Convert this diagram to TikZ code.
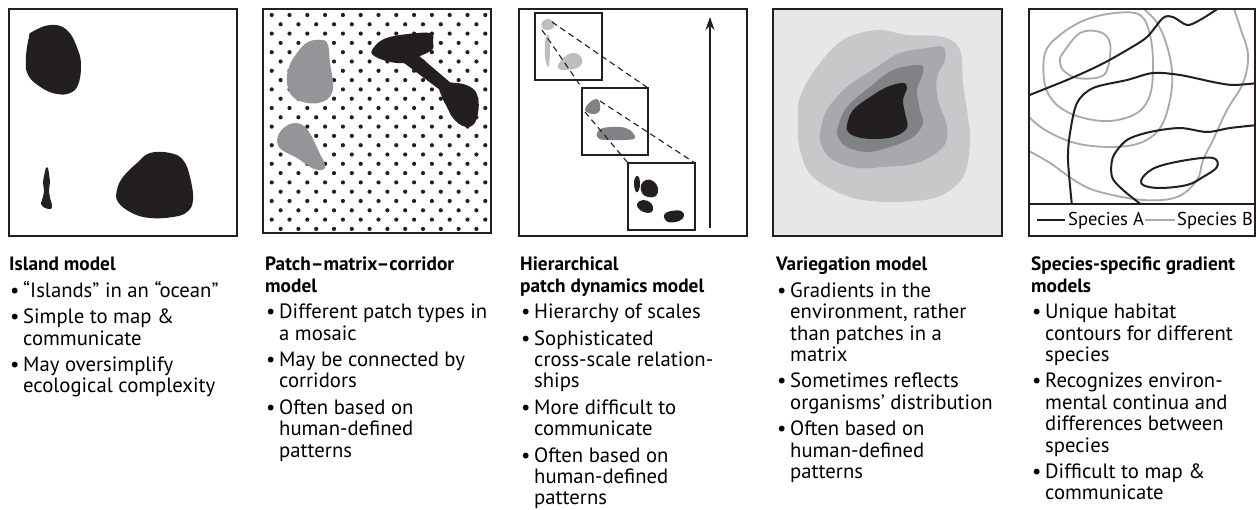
\documentclass[tikz,border=0pt]{standalone}
\usepackage{fontspec}
\setmainfont{PT Sans}
\usetikzlibrary{arrows.meta}

\definecolor{ink}{RGB}{35,31,32}
\definecolor{patchgray}{RGB}{147,149,152}
\definecolor{finegray}{RGB}{188,190,192}
\definecolor{coarsegray}{RGB}{128,130,133}
\definecolor{paleback}{RGB}{230,231,232}
\definecolor{levelone}{RGB}{199,200,202}
\definecolor{leveltwo}{RGB}{167,169,172}
\definecolor{levelthree}{RGB}{128,130,133}
\definecolor{speciesb}{RGB}{167,169,172}

% bullet item with hanging indent
\newcommand{\bul}{\par\vspace{5pt}\hangindent=14pt\hangafter=1\noindent\makebox[14pt][l]{\hspace{1pt}\textbullet}}
\newcommand{\captionfont}{\fontsize{20.7}{21.4}\selectfont}
\newcommand{\headfont}{\fontsize{19.3}{21.4}\selectfont\bfseries}
\newcommand{\keyfont}{\fontsize{18.6}{20}\selectfont}

\tikzset{
  frame/.style={draw=ink, line width=1.3pt},
  inset/.style={draw=ink, line width=1.1pt},
  blob/.style={fill=ink},
  zoomline/.style={draw=ink, line width=1.1pt, dash pattern=on 6pt off 4pt},
  spa/.style={draw=ink, line width=2pt, line join=round, line cap=round},
  spb/.style={draw=speciesb, line width=1.8pt, line join=round, line cap=round},
  caption/.style={anchor=base west, inner sep=0pt},
}

\begin{document}
\begin{tikzpicture}[x=1pt,y=-1pt]
\useasboundingbox (0,0) rectangle (1256,510);
\fill[white] (0,0) rectangle (1256,510);

% ---------- Island model ----------
\fill[blob] plot[smooth cycle, tension=0.7] coordinates {(32,32) (50,25) (67,30) (78,50) (81,67) (78,85) (70,93) (57,94) (42,88) (28,75) (26,57) (29,37)};
\fill[blob] plot[smooth cycle, tension=0.5] coordinates {(46,168) (44,176) (43,183) (44,190) (43,197) (41,204) (45,208) (51,209) (52,205) (50,198) (49,190) (50,182) (49,174) (48,168)};
\fill[blob] plot[smooth cycle, tension=0.7] coordinates {(150,153) (170,153) (183,160) (190,177) (193,200) (187,212) (173,217) (150,218) (132,213) (118,202) (117,190) (123,177) (137,163)};
\draw[frame] (9,9) rectangle (237,236);

% ---------- Patch-matrix-corridor model ----------
\foreach \j in {0,...,23}{
  \pgfmathsetmacro{\yy}{15+9.3*\j}
  \ifodd\j
    \foreach \i in {0,...,11}{\fill[ink] ({280.6+17.8*\i},\yy) circle[radius=2.1pt];}
  \else
    \foreach \i in {0,...,12}{\fill[ink] ({271.7+17.8*\i},\yy) circle[radius=2.1pt];}
  \fi
}
\fill[patchgray] plot[smooth cycle, tension=0.7] coordinates {(308,42) (322,40) (328,45) (330,63) (333,83) (331,95) (322,102) (308,103) (293,97) (287,83) (289,67) (297,53)};
\fill[patchgray] plot[smooth cycle, tension=0.6] coordinates {(297,123) (305,127) (312,137) (318,150) (325,165) (322,170) (312,168) (297,158) (282,150) (277,142) (280,132) (288,125)};
\fill[blob] plot[smooth cycle, tension=0.6] coordinates {(372,50) (382,40) (400,35) (430,33) (433,42) (432,50) (418,57) (410,62) (397,63) (383,60) (373,55)};
\fill[blob] (408,57) -- (418,55) -- (452,84) -- (446,96) -- (440,90) -- (404,63) -- cycle;
\fill[blob] plot[smooth cycle, tension=0.7] coordinates {(440,85) (457,83) (472,88) (478,98) (478,113) (473,125) (463,126) (453,118) (447,107) (442,97)};
\draw[frame] (263,9) rectangle (491,233);

% ---------- Hierarchical patch dynamics model ----------
\draw[frame] (519,9) rectangle (747,236);
\draw[inset] (535,13) rectangle (602,80);
\draw[inset] (582,88) rectangle (648,155);
\draw[inset] (628,163) rectangle (695,230);
\fill[finegray] plot[smooth cycle, tension=0.7] coordinates {(542,22) (548,19) (554,22) (553,28) (546,30) (542,27)};
\fill[finegray] plot[smooth cycle, tension=0.5] coordinates {(547,35) (549,36) (550,50) (549,65) (547,66) (545,55) (545,42)};
\fill[finegray] plot[smooth cycle, tension=0.7] coordinates {(560,62) (567,55) (575,53) (581,57) (582,63) (577,68) (565,70) (558,68)};
\fill[coarsegray] plot[smooth cycle, tension=0.6] coordinates {(585,110) (590,102) (597,99) (600,104) (599,112) (592,114)};
\fill[coarsegray] plot[smooth cycle, tension=0.6] coordinates {(597,133) (603,128) (620,127) (630,130) (635,138) (625,140) (605,140) (598,138)};
\fill[blob] plot[smooth cycle, tension=0.7] coordinates {(634,185) (635,178) (638,176) (640,182) (639,190) (636,192)};
\fill[blob] plot[smooth cycle, tension=0.7] coordinates {(641,185) (646,180) (653,181) (658,188) (656,196) (648,197) (642,193)};
\fill[blob] plot[smooth cycle, tension=0.7] coordinates {(637,204) (643,200) (651,203) (653,210) (648,213) (640,210)};
\fill[blob] plot[smooth cycle, tension=0.7] coordinates {(664,215) (671,211) (681,211) (684,216) (679,221) (668,222)};
\coordinate (za1) at (552,22);
\coordinate (za2) at (542,30);
\coordinate (zb1) at (648,88);
\coordinate (zb2) at (582,88);
\coordinate (zc1) at (600,101);
\coordinate (zc2) at (585,112);
\coordinate (zd1) at (695,163);
\coordinate (zd2) at (628,163);
\draw[zoomline] (za1) -- (zb1);
\draw[zoomline] (za2) -- (zb2);
\draw[zoomline] (zc1) -- (zd1);
\draw[zoomline] (zc2) -- (zd2);
\coordinate (scalelow) at (710,228);
\coordinate (scalehigh) at (710,17);
\draw[draw=ink, line width=1.3pt, -{Stealth[length=13pt,width=9pt]}] (scalelow) -- (scalehigh);

% ---------- Variegation model ----------
\fill[paleback] (773,9) rectangle (1002,236);
\fill[levelone] plot[smooth cycle, tension=0.6] coordinates {(800,97) (817,67) (843,40) (877,30) (907,35) (943,37) (960,50) (963,83) (968,117) (970,143) (963,177) (937,197) (893,202) (850,197) (813,177) (800,150) (798,123)};
\fill[leveltwo] plot[smooth cycle, tension=0.6] coordinates {(820,133) (827,110) (847,87) (877,67) (900,53) (927,48) (943,47) (945,60) (937,77) (938,100) (947,127) (943,147) (917,163) (883,167) (857,168) (833,160) (822,147)};
\fill[levelthree] plot[smooth cycle, tension=0.6] coordinates {(838,127) (847,107) (870,87) (893,70) (920,65) (923,73) (917,90) (920,110) (923,123) (913,137) (890,147) (867,152) (847,147) (838,137)};
\fill[blob] plot[smooth cycle, tension=0.6] coordinates {(847,125) (853,110) (870,97) (887,87) (903,83) (907,88) (903,100) (905,113) (907,128) (893,137) (873,139) (857,137) (848,132)};
\draw[frame] (773,9) rectangle (1002,236);

% ---------- Species-specific gradient models ----------
\begin{scope}
\clip (1029,9) rectangle (1255,204);
\draw[spb] plot[smooth cycle, tension=0.6] coordinates {(1063,53) (1080,33) (1100,32) (1110,43) (1108,67) (1100,77) (1077,78) (1063,70) (1060,60)};
\draw[spb] plot[smooth cycle, tension=0.6] coordinates {(1045,53) (1060,35) (1085,20) (1115,13) (1140,15) (1150,35) (1153,65) (1150,95) (1137,113) (1110,121) (1080,117) (1057,105) (1045,85)};
\draw[spb] plot[smooth, tension=0.6] coordinates {(1027,115) (1045,130) (1075,143) (1110,147) (1140,143) (1160,128) (1170,100) (1172,70) (1165,40) (1155,20) (1140,6)};
\draw[spb] plot[smooth, tension=0.6] coordinates {(1027,150) (1050,163) (1077,182) (1100,192) (1143,200) (1177,197) (1197,180) (1203,160) (1213,140) (1227,110) (1243,83) (1248,55) (1240,27) (1233,6)};
\draw[spa] plot[smooth, tension=0.5] coordinates {(1027,96) (1067,80) (1100,65) (1127,50) (1147,37) (1163,18) (1173,17) (1187,25) (1200,20) (1222,6)};
\draw[spa] plot[smooth, tension=0.5] coordinates {(1072,206) (1068,160) (1070,133) (1077,103) (1093,88) (1127,80) (1153,73) (1180,75) (1213,82) (1233,85) (1258,83)};
\draw[spa] plot[smooth, tension=0.5] coordinates {(1143,206) (1123,190) (1112,177) (1113,157) (1127,140) (1150,132) (1180,128) (1207,132) (1230,128) (1258,125)};
\draw[spa] plot[smooth cycle, tension=0.6] coordinates {(1143,177) (1157,167) (1187,160) (1213,158) (1217,167) (1203,177) (1187,185) (1160,188) (1143,185)};
\end{scope}
\draw[frame] (1029,9) rectangle (1255,236);
\draw[frame] (1029,204) -- (1255,204);
\coordinate (la0) at (1037,220);
\coordinate (la1) at (1065,220);
\coordinate (lb0) at (1145,220);
\coordinate (lb1) at (1175,220);
\draw[spa, line cap=butt] (la0) -- (la1);
\draw[spb, line cap=butt] (lb0) -- (lb1);
\node[caption] (keya) at (1068,226) {\keyfont Species A};
\node[caption] (keyb) at (1177,226) {\keyfont Species B};

% ---------- captions ----------
\node[caption] (capisland) at (9,271) {\begin{minipage}[t]{245pt}\captionfont
{\headfont Island model}
\bul “Islands” in an “ocean”
\bul Simple to map \&\\communicate
\bul May oversimplify\\ecological complexity
\end{minipage}};

\node[caption] (cappatch) at (265,271) {\begin{minipage}[t]{245pt}\captionfont
{\headfont Patch–matrix–corridor}\\{\headfont model}
\bul Different patch types in\\a mosaic
\bul May be connected by\\corridors
\bul Often based on\\human-defined\\patterns
\end{minipage}};

\node[caption] (caphier) at (520,271) {\begin{minipage}[t]{245pt}\captionfont
{\headfont Hierarchical}\\{\headfont patch dynamics model}
\bul Hierarchy of scales
\bul Sophisticated\\cross-scale relation-\\ships
\bul More difficult to\\communicate
\bul Often based on\\human-defined\\patterns
\end{minipage}};

\node[caption] (capvar) at (776,271) {\begin{minipage}[t]{245pt}\captionfont
{\headfont Variegation model}
\bul Gradients in the\\environment, rather\\than patches in a\\matrix
\bul Sometimes reflects\\organisms’ distribution
\bul Often based on\\human-defined\\patterns
\end{minipage}};

\node[caption] (capgrad) at (1031,271) {\begin{minipage}[t]{245pt}\captionfont
{\headfont Species-specific gradient}\\{\headfont models}
\bul Unique habitat\\contours for different\\species
\bul Recognizes environ-\\mental continua and\\differences between\\species
\bul Difficult to map \&\\communicate
\end{minipage}};

\end{tikzpicture}
\end{document}
